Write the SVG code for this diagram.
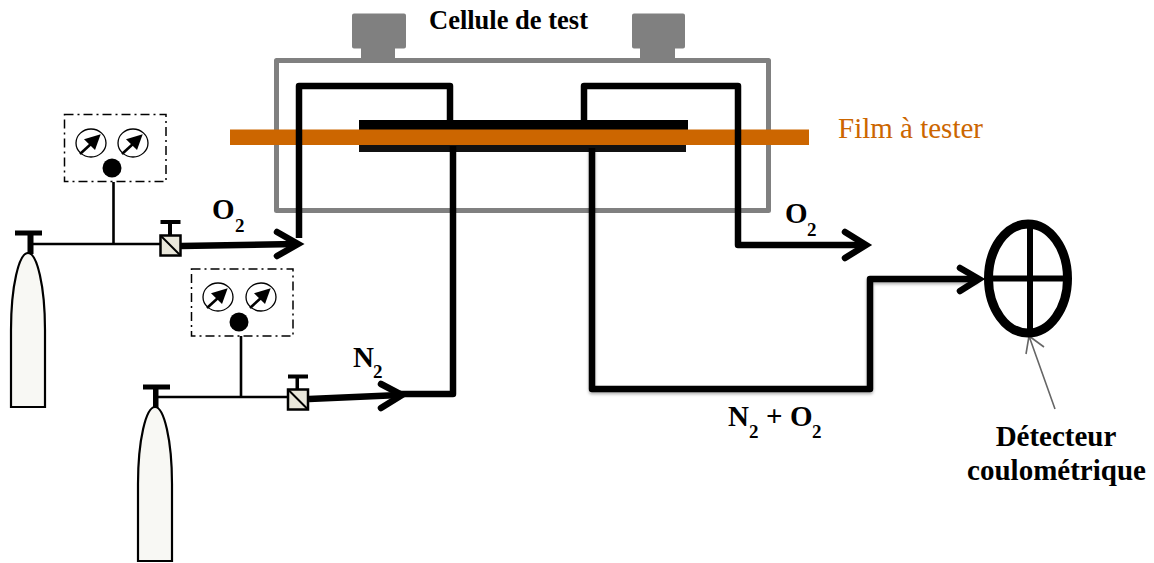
<svg xmlns="http://www.w3.org/2000/svg" width="1154" height="563" viewBox="0 0 1154 563">
<style>
.t{font-family:"Liberation Serif","Times New Roman",serif;font-weight:bold;fill:#000}
.pipe{fill:none;stroke:#000;stroke-width:6.500;stroke-linejoin:round;stroke-linecap:butt}
.head{fill:none;stroke:#000;stroke-width:6.500;stroke-linejoin:miter;stroke-linecap:round}
.thin{fill:none;stroke:#000;stroke-width:2.600}
.box{fill:none;stroke:#000;stroke-width:1.500;stroke-dasharray:9 4 2 4}
.cyl{fill:#f8f8f4;stroke:#000;stroke-width:2.200}
.valve{fill:#e9e7db;stroke:#000;stroke-width:2.500}
.knob{fill:#808080}
</style>
<defs>
<g id="gauge">
<ellipse rx="15" ry="14" fill="#fff" stroke="#000" stroke-width="1.300"/>
<path d="M-11 11L1 0" stroke="#000" stroke-width="2.600" fill="none"/>
<path d="M9.700 -8.700L-7 -3.700L4 7Z" fill="#000"/>
</g>
<filter id="sh" x="-5%" y="-5%" width="110%" height="115%"><feDropShadow dx="0" dy="2" stdDeviation="1.500" flood-color="#000" flood-opacity="0.3"/></filter>
</defs>

<g id="cell">
<path class="knob" d="M354 13.500H404Q406 13.500 406 15.500V46.500Q406 48.500 404 48.500H395V60H361V48.500H354Q352 48.500 352 46.500V15.500Q352 13.500 354 13.500Z"/>
<path class="knob" d="M634 13.500H683Q685 13.500 685 15.500V46.500Q685 48.500 683 48.500H675V60H640V48.500H634Q632 48.500 632 46.500V15.500Q632 13.500 634 13.500Z"/>
<rect x="276.500" y="60.500" width="492" height="150" fill="none" stroke="#808080" stroke-width="5" stroke-linejoin="round"/>
<text class="t" x="429" y="28.500" font-size="26.500">Cellule de test</text>
</g>

<g id="film">
<rect x="359" y="120" width="329" height="12" fill="#000"/>
<rect x="359" y="143" width="327" height="9" fill="#111"/>
<rect x="230" y="129.500" width="579" height="15.500" fill="#cc6600"/>
<text x="838" y="138" font-size="29" fill="#cc6600" font-family="'Liberation Serif','Times New Roman',serif">Film à tester</text>
</g>

<g id="connectors">
<path class="pipe" d="M299 238V86H450V120"/>
<path class="pipe" d="M584 120V86H738V245H864"/>
<path class="pipe" d="M453 146V394H400"/>
<path class="pipe" d="M592 148V389H870V279H978" filter="url(#sh)"/>
<path class="pipe" d="M181 246L296 244"/>
<path class="pipe" d="M309 399L400 395"/>
<path class="head" d="M277 232L298 244L277 256"/>
<path class="head" d="M381 384L402 395L381 408"/>
<path class="head" d="M845 232L866 245L845 258"/>
<path class="head" d="M960 268L979 279L960 291"/>
<path fill="none" stroke="#666" stroke-width="1.600" d="M1055 409L1029 336M1026 354L1029 336L1044 347"/>
<path class="thin" d="M113.500 182V244M30 244H161"/>
<path class="thin" d="M241 336V397M156 397H288"/>
</g>

<g id="gas-o2">
<path class="cyl" d="M11 407V330C11 286 19 253 28 253C37 253 45 286 45 330V407Z"/>
<path d="M15 230.500H42V235.500H33.500V254H27.500V235.500H15Z" fill="#000"/>
</g>
<g id="gauges-o2">
<rect class="box" x="64.500" y="114.500" width="101.500" height="67"/>
<use href="#gauge" x="91" y="143"/>
<use href="#gauge" x="133" y="143"/>
<circle cx="112" cy="168" r="9.500" fill="#000"/>
</g>
<g id="valve-o2">
<path d="M160.500 220H180.500V224H172V236H168V224H160.500Z" fill="#000"/>
<rect class="valve" x="160.500" y="235.500" width="20" height="20"/>
<path d="M160.500 235.500L180.500 255.500" stroke="#000" stroke-width="2"/>
</g>

<g id="gas-n2">
<path class="cyl" d="M138 561V484C138 440 146 407 155 407C164 407 172 440 172 484V561Z"/>
<path d="M143 384.500H170V389.500H158.500V408H153V389.500H143Z" fill="#000"/>
</g>
<g id="gauges-n2">
<rect class="box" x="191.500" y="269" width="101.500" height="67"/>
<use href="#gauge" x="218" y="297"/>
<use href="#gauge" x="261" y="297"/>
<circle cx="239" cy="322" r="9.500" fill="#000"/>
</g>
<g id="valve-n2">
<path d="M288 374.500H308V378.500H299V390H295.500V378.500H288Z" fill="#000"/>
<rect class="valve" x="288" y="389.500" width="20" height="20"/>
<path d="M288 389.500L308 409.500" stroke="#000" stroke-width="2"/>
</g>

<g id="detector">
<ellipse cx="1028" cy="278.500" rx="39.500" ry="54.500" fill="#fff" stroke="#000" stroke-width="9"/>
<path d="M1030 222V335" stroke="#000" stroke-width="6"/>
<path d="M988 278.500H1068" stroke="#000" stroke-width="6"/>
<text class="t" x="1056" y="446" font-size="29" text-anchor="middle">Détecteur</text>
<text class="t" x="1056.500" y="480" font-size="29" text-anchor="middle">coulométrique</text>
</g>

<g id="labels">
<text class="t" x="212" y="219" font-size="29">O</text>
<text class="t" x="235" y="232" font-size="19">2</text>
<text class="t" x="785" y="223" font-size="29">O</text>
<text class="t" x="807" y="236" font-size="19">2</text>
<text class="t" x="353" y="367" font-size="29">N</text>
<text class="t" x="373" y="378" font-size="19">2</text>
<text class="t" x="728" y="426" font-size="29">N</text>
<text class="t" x="749" y="438" font-size="19">2</text>
<text class="t" x="766" y="426" font-size="29">+</text>
<text class="t" x="790" y="426" font-size="29">O</text>
<text class="t" x="812" y="438" font-size="19">2</text>
</g>
</svg>
